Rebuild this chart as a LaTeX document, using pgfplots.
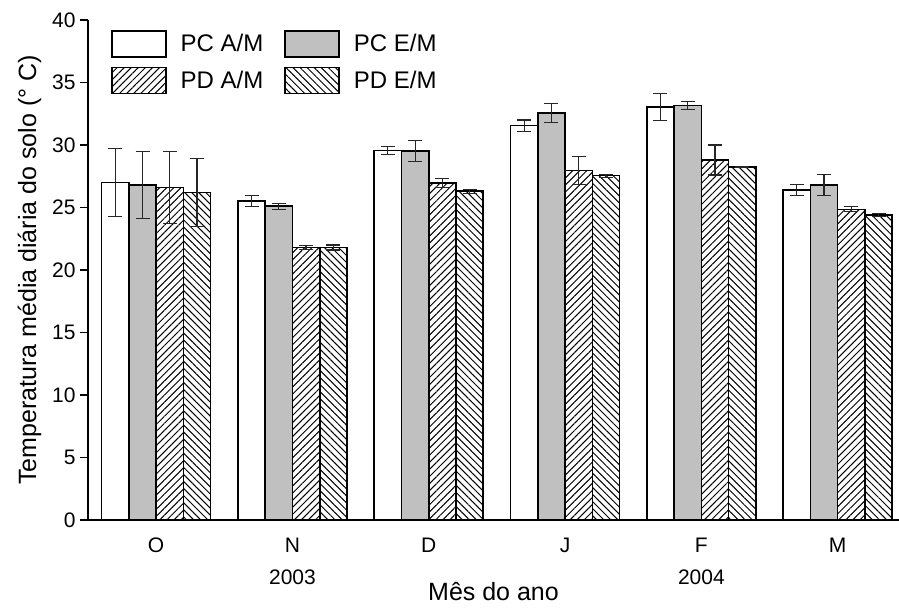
\documentclass[border=0pt]{standalone}
\usepackage{pgfplots}
\pgfplotsset{compat=1.18}
\usepackage{pgfplotstable}
\usetikzlibrary{patterns.meta}
\usepackage{fontspec}
\setmainfont{Liberation Sans}
\definecolor{bargray}{RGB}{192,192,192}

\pgfplotstableread{
x pcam pcame pcem pceme pdam pdame pdem pdeme
0 27.0 2.7 26.8 2.7 26.6 2.9 26.2 2.7
1 25.5 0.45 25.1 0.25 21.8 0.15 21.8 0.2
2 29.55 0.3 29.5 0.85 26.95 0.35 26.3 0.15
3 31.55 0.45 32.55 0.75 27.95 1.1 27.55 0.12
4 33.05 1.1 33.15 0.3 28.8 1.2 28.25 0.05
5 26.4 0.45 26.8 0.85 24.85 0.2 24.4 0.1
}\data

\begin{document}
\begin{tikzpicture}
\path[use as bounding box] (0pt,0pt) rectangle (899pt,609pt);
\begin{axis}[
  at={(88pt,89pt)}, anchor=south west,
  scale only axis, width=811pt, height=500pt,
  xmin=-0.5, xmax=5.45, ymin=0, ymax=40,
  axis x line*=bottom, axis y line*=left,
  axis line style={-, line width=1.5pt},
  xtick={0,...,5}, xticklabels={O,N,D,J,F,M},
  ytick={0,5,...,40},
  major x tick style={draw=none},
  tick align=outside, major tick length=8pt,
  major y tick style={line width=1.5pt, black},
  ytick pos=left,
  /pgf/number format/assume math mode=true,
  tick label style={font=\fontsize{21pt}{24pt}\selectfont},
  xticklabel style={yshift=-6pt, text height=15pt},
  yticklabel style={xshift=-1pt},
  ylabel={Temperatura média diária do solo (° C)},
  xlabel={Mês do ano},
  label style={font=\fontsize{25pt}{28pt}\selectfont},
  xlabel style={yshift=-25pt, inner sep=1pt},
  ylabel style={yshift=4pt},
  ybar=0pt, bar width=0.2,
  clip=false,
  every axis plot/.append style={draw=black, line width=1.6pt,
    error bars/error bar style={line width=1.2pt, black!85},
    error bars/error mark options={rotate=90, mark size=7pt, line width=1.2pt, black!85}},
  legend columns=2,
  legend style={draw=none, fill=none, at={(20pt,492pt)}, anchor=north west,
    font=\fontsize{24pt}{28pt}\selectfont, row sep=9pt,
    /tikz/every even column/.append style={column sep=19pt},
    /tikz/every odd column/.append style={column sep=12pt},
    cells={anchor=west}},
  legend image code/.code={\draw[#1, line width=1.5pt] (0pt,-13pt) rectangle (54pt,13pt);},
]
\addplot[fill=white, bar shift=-0.3, error bars/.cd, y dir=both, y explicit]
  table[x=x, y=pcam, y error=pcame]{\data};
\addplot[fill=bargray, bar shift=-0.1, error bars/.cd, y dir=both, y explicit]
  table[x=x, y=pcem, y error=pceme]{\data};
\addplot[pattern={Lines[angle=45, distance=5pt, line width=1pt]}, bar shift=0.1, error bars/.cd, y dir=both, y explicit]
  table[x=x, y=pdam, y error=pdame]{\data};
\addplot[pattern={Lines[angle=-45, distance=5pt, line width=1pt]}, bar shift=0.3, error bars/.cd, y dir=both, y explicit]
  table[x=x, y=pdem, y error=pdeme]{\data};
\legend{PC A/M, PC E/M, PD A/M, PD E/M}
\node[font=\fontsize{21pt}{24pt}\selectfont] at (axis cs:1,0) [yshift=-57pt] {2003};
\node[font=\fontsize{21pt}{24pt}\selectfont] at (axis cs:4,0) [yshift=-57pt] {2004};
\end{axis}
\end{tikzpicture}
\end{document}
